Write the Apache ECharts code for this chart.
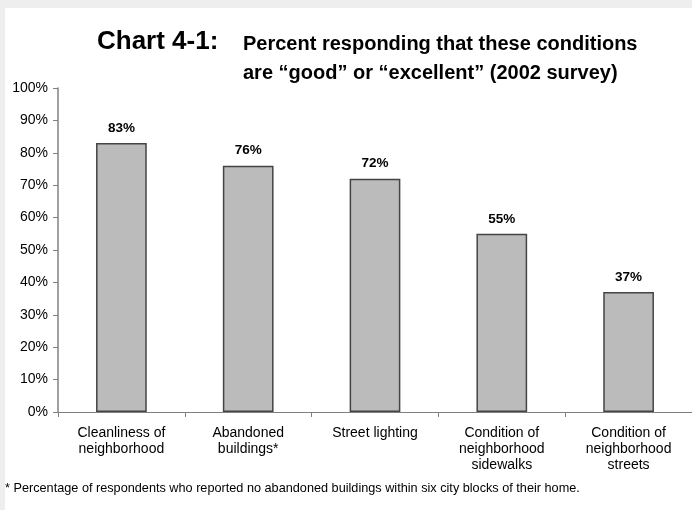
<!DOCTYPE html>
<html><head><meta charset="utf-8">
<script src="https://cdn.jsdelivr.net/npm/echarts@6/dist/echarts.min.js"></script>
<style>html,body{margin:0;padding:0;background:#eeeeee;}#c{width:692px;height:510px;}</style>
</head><body><div id="c"></div>
<script>
const categories = ["Cleanliness of\nneighborhood", "Abandoned\nbuildings*", "Street lighting", "Condition of\nneighborhood\nsidewalks", "Condition of\nneighborhood\nstreets"];
const values = [83, 76, 72, 55, 37];
const yTicks = [0, 10, 20, 30, 40, 50, 60, 70, 80, 90, 100];

const chart = echarts.init(document.getElementById('c'), null, {renderer: 'canvas'});
const font = 'Liberation Sans, Arial, Helvetica, sans-serif';
chart.setOption({
  animation: false,
  backgroundColor: 'transparent',
  graphic: [
    {type: 'rect', shape: {x: 5, y: 8, width: 700, height: 520}, style: {fill: '#ffffff'}, z: -10},
    {type: 'text', left: 97, top: 29, style: {text: 'Chart 4-1:', font: 'bold 26px ' + font, fill: '#000'}},
    {type: 'text', left: 243, top: 30, style: {text: 'Percent responding that these conditions\nare \u201cgood\u201d or \u201cexcellent\u201d (2002 survey)', font: 'bold 20px ' + font, fill: '#000', lineHeight: 29}},
    {type: 'text', left: 5, top: 482, style: {text: '* Percentage of respondents who reported no abandoned buildings within six city blocks of their home.', font: '12.7px ' + font, fill: '#000'}}
  ],
  grid: {left: 58, top: 88, width: 634, height: 324},
  xAxis: {
    type: 'category', data: categories,
    axisLine: {lineStyle: {color: '#808080', width: 1}},
    axisTick: {show: true, alignWithLabel: false, length: 5, lineStyle: {color: '#808080'}},
    axisLabel: {color: '#000', fontSize: 14, fontFamily: font, lineHeight: 16, margin: 13, interval: 0}
  },
  yAxis: {
    type: 'value', min: 0, max: 100, interval: 10,
    axisLine: {show: true, lineStyle: {color: '#808080', width: 1.5}},
    axisTick: {show: true, length: 5, lineStyle: {color: '#808080'}},
    splitLine: {show: false},
    axisLabel: {color: '#000', fontSize: 14, fontFamily: font, margin: 10,
      formatter: v => yTicks.includes(v) ? v + '%' : ''}
  },
  series: [{
    type: 'bar', data: values, barWidth: '40%',
    itemStyle: {color: '#bbbbbb', borderColor: '#444444', borderWidth: 1.5},
    label: {show: true, position: 'top', distance: 8, formatter: '{c}%', fontWeight: 'bold', fontSize: 13.5, fontFamily: font, color: '#000'}
  }]
});
</script></body></html>
